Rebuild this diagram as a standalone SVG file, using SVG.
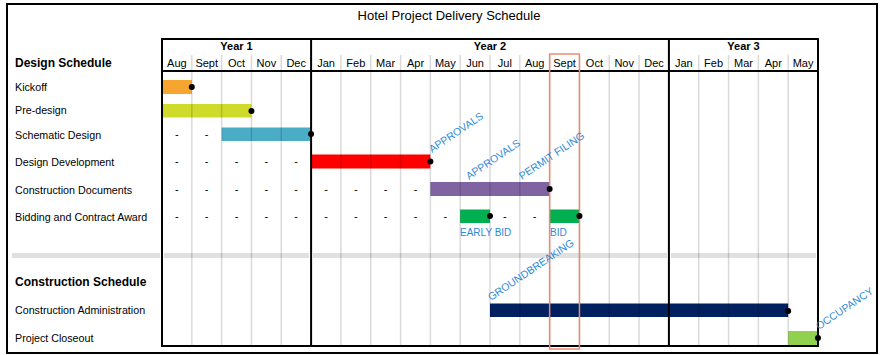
<svg xmlns="http://www.w3.org/2000/svg" width="882" height="355" viewBox="0 0 882 355">
<style>
text{font-family:"Liberation Sans",Arial,sans-serif;fill:#000}
.t{font-size:13px}
.h{font-size:12px;font-weight:bold}
.l{font-size:10.7px}
.y{font-size:11px;font-weight:bold;text-anchor:middle}
.m{font-size:11px;text-anchor:middle}
.d{font-size:11px;text-anchor:middle}
.b{font-size:10.5px;fill:#2f88d6}
.b2{font-size:10px;fill:#2f88d6}
.g{stroke:#000;stroke-opacity:0.15;stroke-width:1.5}
.k{stroke:#000;stroke-width:2;fill:none}
.dot{fill:#000}
</style>
<rect x="0" y="0" width="882" height="355" fill="#fff"/>
<rect x="7" y="4" width="870" height="349" fill="#fff" stroke="#000" stroke-width="2"/>
<text class="t" x="449" y="20" text-anchor="middle">Hotel Project Delivery Schedule</text>

<g id="band">
<rect x="12" y="253" width="148" height="5" fill="#e0e0e0"/>
<rect x="164" y="253" width="145" height="5" fill="#e0e0e0"/>
<rect x="313" y="253" width="354" height="5" fill="#e0e0e0"/>
<rect x="671" y="253" width="145" height="5" fill="#e0e0e0"/>
</g>

<g id="bars">
<rect x="162" y="80" width="29.82" height="14" fill="#f6a531"/>
<rect x="162" y="104" width="89.45" height="13.5" fill="#cedb2b"/>
<rect x="221.64" y="127.5" width="89.45" height="13.5" fill="#4bacc6"/>
<rect x="311.09" y="154.5" width="119.27" height="14" fill="#ff0000"/>
<rect x="430.36" y="182" width="119.28" height="14" fill="#8064a2"/>
<rect x="460.18" y="209.5" width="29.82" height="13.5" fill="#00b050"/>
<rect x="549.64" y="209.5" width="29.81" height="13.5" fill="#00b050"/>
<rect x="490" y="303.5" width="298.18" height="13.5" fill="#002060"/>
<rect x="788.18" y="331" width="29.82" height="14" fill="#92d050"/>
</g>

<g id="grid">
<path class="g" d="M191.82 55V345M221.64 55V345M251.45 55V345M281.27 55V345M340.91 55V345M370.73 55V345M400.55 55V345M430.36 55V345M460.18 55V345M490 55V345M519.82 55V345M549.64 55V345M579.45 55V345M609.27 55V345M639.09 55V345M698.73 55V345M728.55 55V345M758.36 55V345M788.18 55V345"/>
<rect class="k" x="162" y="39" width="656" height="307"/>
<path class="k" d="M162 71H818M311.09 39V346M668.91 39V346"/>
<rect x="549.64" y="54" width="29.81" height="295" fill="none" stroke="#ec8a70" stroke-width="1.5"/>
</g>

<g id="header">
<text class="y" x="236.5" y="50">Year 1</text>
<text class="y" x="490" y="50">Year 2</text>
<text class="y" x="743.5" y="50">Year 3</text>
<text class="m" x="176.9" y="67">Aug</text>
<text class="m" x="206.7" y="67">Sept</text>
<text class="m" x="236.5" y="67">Oct</text>
<text class="m" x="266.4" y="67">Nov</text>
<text class="m" x="296.2" y="67">Dec</text>
<text class="m" x="326" y="67">Jan</text>
<text class="m" x="355.8" y="67">Feb</text>
<text class="m" x="385.6" y="67">Mar</text>
<text class="m" x="415.5" y="67">Apr</text>
<text class="m" x="445.3" y="67">May</text>
<text class="m" x="475.1" y="67">Jun</text>
<text class="m" x="504.9" y="67">Jul</text>
<text class="m" x="534.7" y="67">Aug</text>
<text class="m" x="564.5" y="67">Sept</text>
<text class="m" x="594.4" y="67">Oct</text>
<text class="m" x="624.2" y="67">Nov</text>
<text class="m" x="654" y="67">Dec</text>
<text class="m" x="683.8" y="67">Jan</text>
<text class="m" x="713.6" y="67">Feb</text>
<text class="m" x="743.5" y="67">Mar</text>
<text class="m" x="773.3" y="67">Apr</text>
<text class="m" x="803.1" y="67">May</text>
</g>

<text class="h" x="15" y="67">Design Schedule</text>
<text class="h" x="15" y="286">Construction Schedule</text>

<g id="kickoff">
<text class="l" x="15" y="91">Kickoff</text>
<circle class="dot" cx="191.82" cy="87" r="3"/>
</g>
<g id="predesign">
<text class="l" x="15" y="114">Pre-design</text>
<circle class="dot" cx="251.45" cy="111" r="3"/>
</g>
<g id="schematic">
<text class="l" x="15" y="138.5">Schematic Design</text>
<text class="d" x="176.9" y="138">-</text><text class="d" x="206.7" y="138">-</text>
<circle class="dot" cx="311.09" cy="134" r="3"/>
</g>
<g id="dd">
<text class="l" x="15" y="165.5">Design Development</text>
<text class="d" x="176.9" y="165">-</text><text class="d" x="206.7" y="165">-</text><text class="d" x="236.5" y="165">-</text><text class="d" x="266.4" y="165">-</text><text class="d" x="296.2" y="165">-</text>
<circle class="dot" cx="430.36" cy="161.5" r="3"/>
<text class="b" transform="translate(432 153) rotate(-34)">APPROVALS</text>
</g>
<g id="cd">
<text class="l" x="15" y="193.5">Construction Documents</text>
<text class="d" x="176.9" y="192.5">-</text><text class="d" x="206.7" y="192.5">-</text><text class="d" x="236.5" y="192.5">-</text><text class="d" x="266.4" y="192.5">-</text><text class="d" x="296.2" y="192.5">-</text><text class="d" x="326" y="192.5">-</text><text class="d" x="355.8" y="192.5">-</text><text class="d" x="385.6" y="192.5">-</text><text class="d" x="415.5" y="192.5">-</text>
<circle class="dot" cx="549.64" cy="189" r="3"/>
<text class="b" transform="translate(469 180) rotate(-34)">APPROVALS</text>
<text class="b" transform="translate(522 180) rotate(-34)">PERMIT FILING</text>
</g>
<g id="bidding">
<text class="l" x="15" y="221">Bidding and Contract Award</text>
<text class="d" x="176.9" y="220">-</text><text class="d" x="206.7" y="220">-</text><text class="d" x="236.5" y="220">-</text><text class="d" x="266.4" y="220">-</text><text class="d" x="296.2" y="220">-</text><text class="d" x="326" y="220">-</text><text class="d" x="355.8" y="220">-</text><text class="d" x="385.6" y="220">-</text><text class="d" x="415.5" y="220">-</text><text class="d" x="445.3" y="220">-</text><text class="d" x="504.9" y="220">-</text><text class="d" x="534.7" y="220">-</text>
<circle class="dot" cx="490" cy="216" r="3"/>
<circle class="dot" cx="579.45" cy="216" r="3"/>
<text class="b2" x="460" y="235.5">EARLY BID</text>
<text class="b2" x="550" y="235.5">BID</text>
</g>
<g id="ca">
<text class="l" x="15" y="314">Construction Administration</text>
<circle class="dot" cx="788.18" cy="311" r="3"/>
<text class="b" transform="translate(491 301) rotate(-34)">GROUNDBREAKING</text>
</g>
<g id="closeout">
<text class="l" x="15" y="342">Project Closeout</text>
<circle class="dot" cx="818" cy="338" r="3"/>
<text class="b" transform="translate(819 330) rotate(-34)">OCCUPANCY</text>
</g>
<g id="connectors"/>
</svg>
